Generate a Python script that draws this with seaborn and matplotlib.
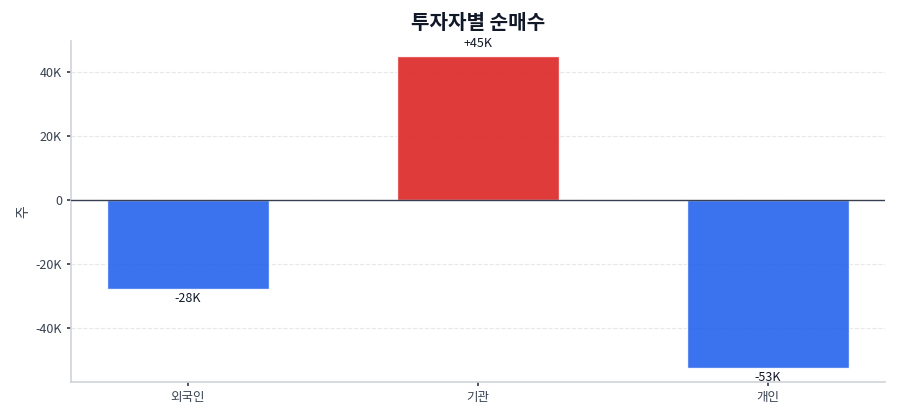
import matplotlib
matplotlib.use("Agg")
import matplotlib.pyplot as plt
import seaborn as sns
import pandas as pd
from matplotlib.ticker import FuncFormatter

categories = ["외국인", "기관", "개인"]
values = [-27800, 45100, -52400]
labels = ["-28K", "+45K", "-53K"]
bar_colors = ["#2563eb", "#dc2626", "#2563eb"]

sns.set_theme(style="white")
plt.rcParams['font.family'] = ['Noto Sans CJK KR', 'DejaVu Sans']
plt.rcParams['axes.unicode_minus'] = False

df = pd.DataFrame({"investor": categories, "value": values})

fig, ax = plt.subplots(figsize=(9, 4.2), dpi=100)
sns.barplot(data=df, x="investor", y="value", hue="investor", palette=bar_colors,
            width=0.558, alpha=0.9, legend=False, ax=ax, saturation=1)

for p, lab, v in zip(ax.patches, labels, values):
    x = p.get_x() + p.get_width() / 2
    if v >= 0:
        ax.annotate(lab, (x, v), xytext=(0, 4), textcoords="offset points",
                    ha="center", va="bottom", fontsize=9, color="#111827")
    else:
        ax.annotate(lab, (x, v), xytext=(0, -2), textcoords="offset points",
                    ha="center", va="top", fontsize=9, color="#111827")

ax.axhline(0, color="#374151", linewidth=1, zorder=3)
ax.set_xlim(-0.4025, 2.4025)
ax.set_ylim(-56900, 49700)
ax.yaxis.set_major_formatter(FuncFormatter(lambda v, _: "0" if v == 0 else f"{int(v/1000)}K"))
ax.set_yticks([-40000, -20000, 0, 20000, 40000])
ax.grid(axis="y", linestyle="--", color="#e5e7eb", linewidth=0.8)
ax.set_axisbelow(True)
for s in ["top", "right"]:
    ax.spines[s].set_visible(False)
for s in ["left", "bottom"]:
    ax.spines[s].set_color("#d1d5db")
ax.tick_params(axis="both", colors="#374151", labelsize=9, length=3, left=True, bottom=True)
ax.set_xlabel("")
ax.set_ylabel("주", fontsize=10, color="#374151")
ax.set_title("투자자별 순매수", fontsize=14.5, fontweight="bold", color="#111827", pad=9)

fig.subplots_adjust(left=0.079, right=0.983, top=0.902, bottom=0.09)
fig.savefig("out.png", dpi=100)
